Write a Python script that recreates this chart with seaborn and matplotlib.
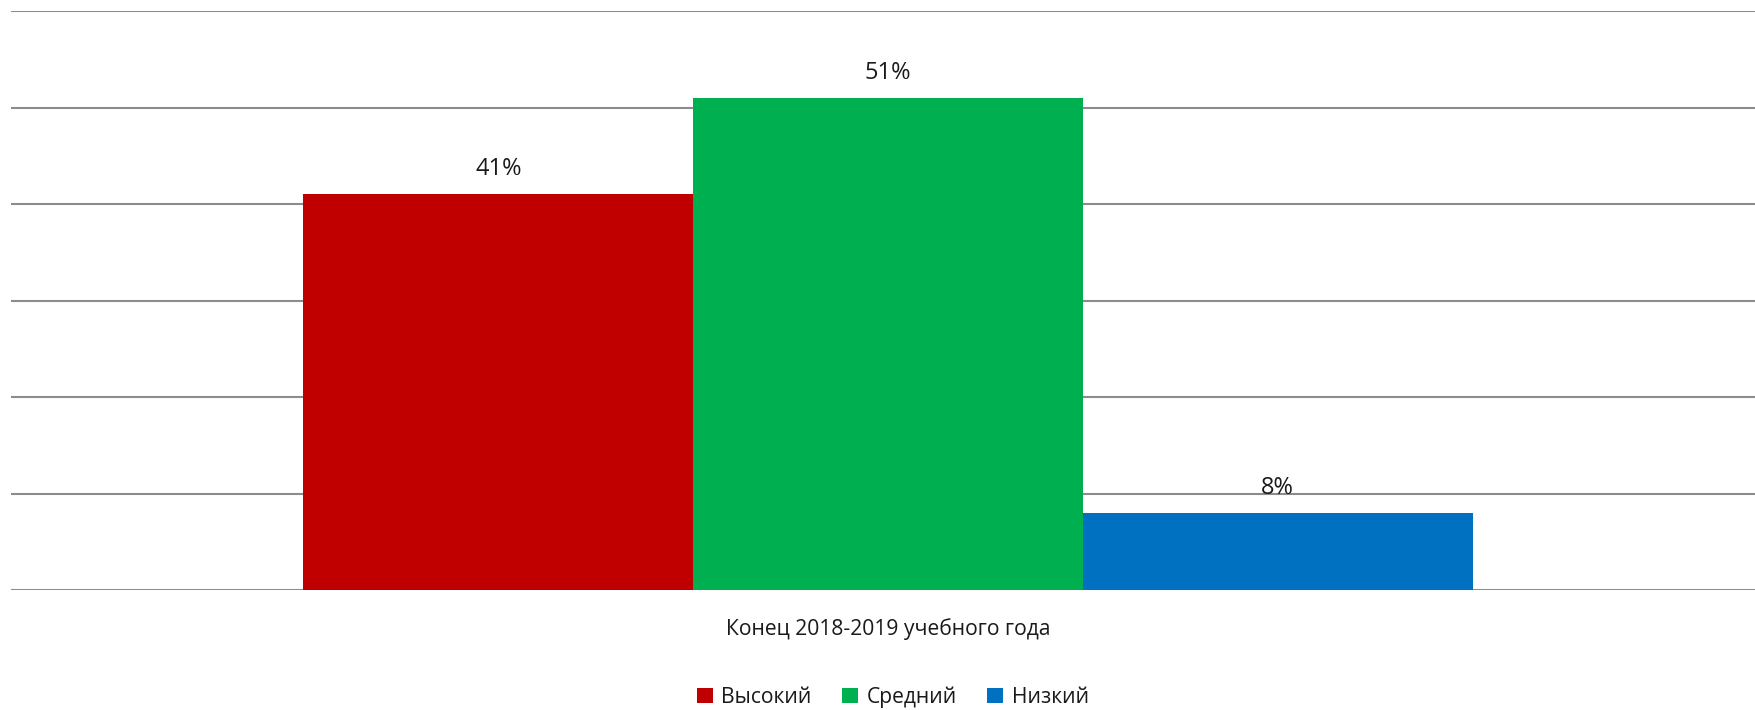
import matplotlib
matplotlib.use("Agg")
import matplotlib.pyplot as plt
import seaborn as sns
import pandas as pd

category = ["Конец 2018-2019 учебного года"]
levels = ["Высокий", "Средний", "Низкий"]
values = [41, 51, 8]
colors = ["#C00000", "#00B050", "#0070C0"]

df = pd.DataFrame({"cat": category * len(levels), "level": levels, "value": values})

sns.set_theme(style="white")
plt.rcParams["font.family"] = ["Open Sans", "DejaVu Sans"]

fig = plt.figure(figsize=(17.56, 7.10), dpi=100)
ax = fig.add_axes([11 / 1756, 1 - 590 / 710, 1 - 11 / 1756, (590 - 11) / 710])

sns.barplot(data=df, x="cat", y="value", hue="level", hue_order=levels,
            palette=colors, width=0.67, saturation=1, linewidth=0, ax=ax)

ax.set_xlim(-0.5026, 0.4974)
ax.set_ylim(0, 60)
ax.set_yticks(range(0, 61, 10))
ax.set_yticklabels([])
ax.tick_params(axis="y", length=0)
ax.tick_params(axis="x", length=0, pad=20, labelsize=15.2, labelcolor="#1a1a1a")
ax.grid(axis="y", color="#8c8c8c", linewidth=1.5)
ax.set_axisbelow(True)
for s in ax.spines.values():
    s.set_visible(False)
ax.set_xlabel("")
ax.set_ylabel("")

for cont in ax.containers:
    ax.bar_label(cont, fmt="%d%%", padding=9.5, fontsize=17, color="#1a1a1a")

handles, labels = ax.get_legend_handles_labels()
ax.get_legend().remove()
fig.legend(handles, labels, loc="center", bbox_to_anchor=(893 / 1756, 1 - 697 / 710),
           ncol=3, frameon=False, fontsize=15.2, handlelength=0.75, handleheight=0.7,
           handletextpad=0.4, columnspacing=1.45, labelcolor="#1a1a1a")

fig.savefig("out.png", dpi=100, facecolor="white")
